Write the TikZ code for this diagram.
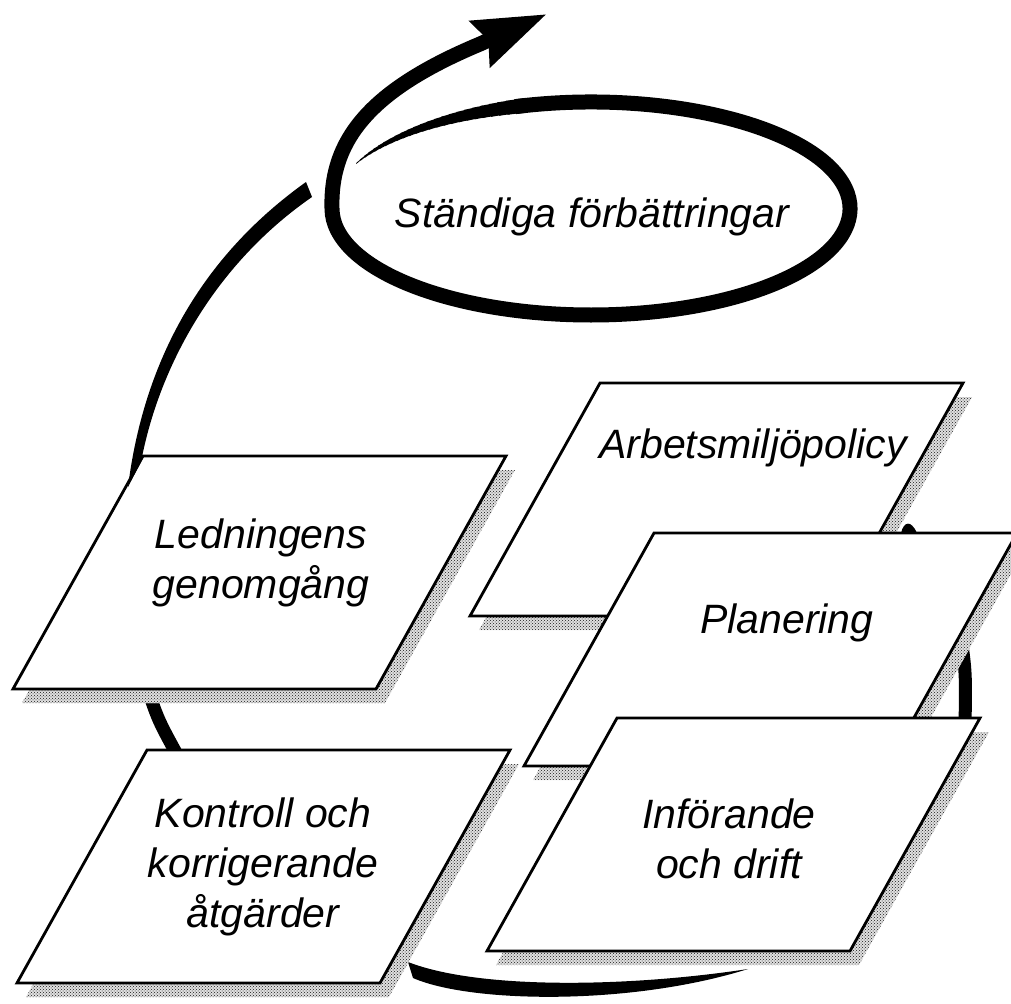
\documentclass[tikz,border=0pt]{standalone}
\usepackage{fontspec}
\setmainfont{Liberation Sans}
\usetikzlibrary{arrows.meta,patterns}

\tikzset{
  label text/.style={font=\fontsize{41}{50}\selectfont\itshape, align=center, inner sep=0pt},
  frame line/.style={line width=2.8pt, line join=miter},
  box shadow/.style={pattern=crosshatch dots, pattern color=black!90},
  cycle stroke/.style={line width=13pt},
  loop stroke/.style={line width=15pt},
}

% slanted card with a dotted drop shadow; #1 = name, #2 = top-left corner
\newcommand\slantbox[2]{%
  \begin{scope}[shift={#2}]
    \fill[white] (9,14) -- ++(363,0) -- ++(-130,233) -- ++(-363,0) -- cycle;
    \fill[black!12] (9,14) -- ++(363,0) -- ++(-130,233) -- ++(-363,0) -- cycle;
    \fill[box shadow] (9,14) -- ++(363,0) -- ++(-130,233) -- ++(-363,0) -- cycle;
    \draw[frame line, fill=white] (0,0) coordinate (#1-nw) -- (363,0) coordinate (#1-ne)
      -- (233,233) coordinate (#1-se) -- (-130,233) coordinate (#1-sw) -- cycle;
  \end{scope}}

\begin{document}
\begin{tikzpicture}[x=1pt,y=-1pt]
\useasboundingbox (0,0) rectangle (1011,1003);

% cycle connectors running behind the cards
\coordinate (c1a) at (146,684);
\coordinate (c1b) at (180,760);
\draw[cycle stroke] (c1a) .. controls (158,720) .. (c1b);
\coordinate (c2a) at (958,620);
\coordinate (c2b) at (965,725);
\draw[cycle stroke] (c2a) .. controls (966,670) .. (c2b);
\coordinate (c3a) at (408,962);
\coordinate (c3b) at (748,969);
\fill (c3a) -- (413,978) .. controls (470,1003) and (630,1006) .. (c3b)
      .. controls (630,987) and (480,990) .. (c3a) -- cycle;

% cards
\slantbox{arb}{(600,383)}
\fill (901,533) .. controls (904,521) and (911,520) .. (917,533) -- cycle;
\slantbox{pla}{(654,533)}
\slantbox{inf}{(617,718)}
\slantbox{led}{(143,456)}
\slantbox{kon}{(147,750)}

% rising arrow from the review card towards the improvement loop
\coordinate (upa) at (128,487);
\coordinate (upb) at (309,190);
\fill (upa) .. controls (145,352) and (208,252) .. (306,182) -- (312,197)
      .. controls (218,262) and (160,362) .. (141,462) -- cycle;

% improvement loop: tapered start, full turn, then out to the arrow head
\foreach \i in {0,...,24} {
  \pgfmathsetmacro\a{205+\i*2}
  \pgfmathsetmacro\w{0.8+\i*0.58}
  \draw[line width=\w pt] ([shift={(\a:259 and 106.5)}]591,208.5)
    arc[start angle=\a, end angle=\a+2.6, x radius=259, y radius=106.5];
}
\coordinate (tip) at (547,14);
\draw[loop stroke, -{Stealth[length=72pt,width=48pt,inset=8pt]}]
  ([shift={(253:259 and 106.5)}]591,208.5)
  arc[start angle=253, end angle=540, x radius=259, y radius=106.5]
  .. controls (330,140) and (370,90) .. (480,44) -- (tip);

% labels
\node[label text, anchor=base] (imp) at (592,227) {Ständiga förbättringar};
\node[label text, anchor=base] (arbt) at (753,458) {Arbetsmiljöpolicy};
\node[label text, anchor=base] (plat) at (787,633) {Planering};
\node[label text] (ledt) at (261,563) {Ledningens\\genomgång};
\node[label text] (kont) at (263,867) {Kontroll och\\korrigerande\\åtgärder};
\node[label text] (inft) at (729,839) {Införande\\och drift};
\end{tikzpicture}
\end{document}
